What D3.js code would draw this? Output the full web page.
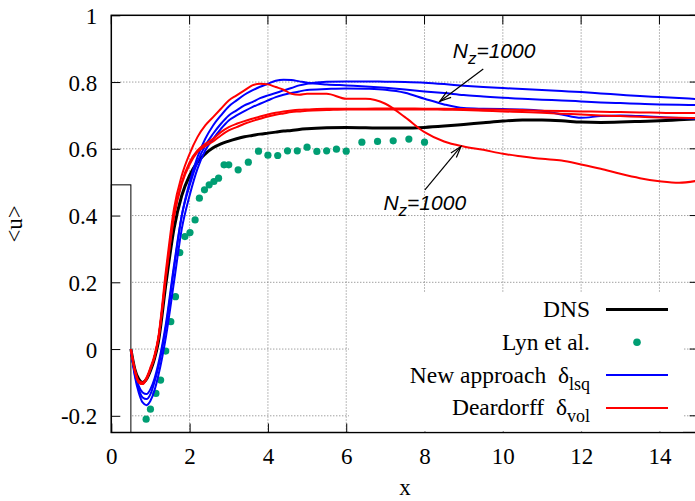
<!DOCTYPE html>
<html>
<head>
<meta charset="utf-8">
<script src="https://cdn.jsdelivr.net/npm/d3@7"></script>
<style>
  body { margin: 0; background: #fff; }
  svg { display: block; }
</style>
</head>
<body>
<div id="chart"></div>
<script>

// ---- data ----
var xGrid = [0.5,0.6,0.7,0.8,0.9,1.0,1.1,1.2,1.4,1.6,1.8,2.0,2.2,2.4,2.6,2.8,3.0,3.2,3.4,3.6,3.8,4.0,4.2,4.4,4.6,4.8,5.0,5.5,6.0,6.5,7.0,7.5,8.0,8.5,9.0,9.5,10.0,10.5,11.0,11.5,12.0,12.5,13.0,13.5,14.0,14.5,15.0];

var dnsU = [0,-0.06,-0.09,-0.10,-0.09,-0.065,-0.03,0.02,0.20,0.36,0.46,0.52,0.56,0.585,0.603,0.615,0.623,0.630,0.636,0.640,0.644,0.647,0.650,0.653,0.655,0.658,0.660,0.663,0.664,0.663,0.662,0.662,0.664,0.668,0.673,0.678,0.683,0.686,0.686,0.684,0.680,0.679,0.680,0.682,0.684,0.687,0.690];

var newA = [0,-0.07,-0.11,-0.13,-0.135,-0.12,-0.09,-0.045,0.08,0.25,0.40,0.49,0.56,0.61,0.645,0.675,0.70,0.715,0.73,0.74,0.752,0.76,0.767,0.775,0.782,0.79,0.795,0.801,0.802,0.802,0.801,0.80,0.798,0.794,0.789,0.785,0.782,0.779,0.776,0.773,0.77,0.766,0.762,0.758,0.755,0.752,0.749];
var newB = [0,-0.075,-0.12,-0.145,-0.15,-0.135,-0.10,-0.055,0.07,0.24,0.40,0.50,0.575,0.63,0.67,0.70,0.727,0.745,0.762,0.775,0.786,0.795,0.804,0.807,0.806,0.802,0.798,0.793,0.79,0.787,0.783,0.778,0.772,0.767,0.761,0.757,0.753,0.75,0.747,0.745,0.742,0.739,0.737,0.735,0.733,0.732,0.731];
var newC = [0,-0.08,-0.13,-0.16,-0.168,-0.155,-0.125,-0.08,0.04,0.20,0.36,0.46,0.54,0.595,0.63,0.66,0.685,0.70,0.713,0.725,0.735,0.745,0.755,0.762,0.767,0.772,0.776,0.779,0.781,0.78,0.777,0.768,0.75,0.733,0.722,0.72,0.719,0.718,0.714,0.703,0.693,0.698,0.70,0.698,0.695,0.692,0.69];

var deaA = [0,-0.06,-0.095,-0.10,-0.085,-0.055,-0.02,0.035,0.24,0.42,0.52,0.585,0.635,0.67,0.695,0.72,0.745,0.76,0.775,0.79,0.795,0.793,0.785,0.777,0.765,0.762,0.765,0.765,0.75,0.75,0.735,0.695,0.65,0.622,0.607,0.597,0.585,0.577,0.57,0.565,0.553,0.54,0.525,0.512,0.503,0.498,0.505];
var deaB = [0,-0.065,-0.10,-0.105,-0.09,-0.06,-0.025,0.03,0.225,0.40,0.50,0.56,0.595,0.615,0.63,0.65,0.665,0.675,0.683,0.69,0.697,0.703,0.708,0.712,0.715,0.717,0.718,0.72,0.72,0.72,0.721,0.721,0.72,0.72,0.719,0.718,0.717,0.716,0.714,0.713,0.712,0.711,0.71,0.709,0.708,0.707,0.707];
var deaC = [0,-0.065,-0.10,-0.105,-0.09,-0.06,-0.025,0.028,0.22,0.395,0.495,0.553,0.59,0.608,0.622,0.64,0.655,0.665,0.675,0.683,0.69,0.697,0.702,0.706,0.71,0.712,0.714,0.716,0.718,0.718,0.718,0.718,0.718,0.717,0.716,0.714,0.712,0.71,0.708,0.705,0.703,0.70,0.698,0.696,0.694,0.693,0.692];

var lynX = [0.89,1.0,1.14,1.26,1.39,1.52,1.64,1.75,1.88,2.01,2.14,2.25,2.38,2.5,2.62,2.74,2.88,3.0,3.24,3.5,3.76,4.0,4.25,4.5,4.75,5.0,5.25,5.5,5.75,6.0,6.4,6.8,7.2,7.6,8.0];
var lynU = [-0.21,-0.18,-0.133,-0.093,-0.006,0.082,0.157,0.289,0.337,0.349,0.387,0.452,0.477,0.492,0.502,0.512,0.552,0.552,0.537,0.56,0.593,0.581,0.58,0.594,0.594,0.605,0.592,0.594,0.599,0.593,0.62,0.622,0.624,0.629,0.62];

var xTicks = [0,2,4,6,8,10,12,14];
var xTickLabels = ["0","2","4","6","8","10","12","14"];
var yTicks = [-0.2,0,0.2,0.4,0.6,0.8,1];
var yTickLabels = ["-0.2","0","0.2","0.4","0.6","0.8","1"];

var legendNames = ["DNS", "Lyn et al.", "New approach", "Deardorff"];
var legendSubs = [null, null, "lsq", "vol"];

// ---- layout ----
var width = 695, height = 501;
var pL = 111.3, pR = 698.6, pT = 15.3, pB = 432.5;
var serif = "'Liberation Serif', Tinos, 'DejaVu Serif', 'Noto Serif', 'Nimbus Roman', FreeSerif, 'Times New Roman', serif";
var sans = "'Liberation Sans', Arial, Helvetica, sans-serif";

var x = d3.scaleLinear().domain([0, 15]).range([pL, pR]);
var y = d3.scaleLinear().domain([-0.25, 1]).range([pB, pT]);

var svg = d3.select("#chart").append("svg")
  .attr("width", width)
  .attr("height", height);

svg.append("rect").attr("width", width).attr("height", height).attr("fill", "#fff");

svg.append("clipPath").attr("id", "clip")
  .append("rect")
  .attr("x", pL).attr("y", pT)
  .attr("width", pR - pL).attr("height", pB - pT);

// grid
var grid = svg.append("g").attr("stroke", "#777").attr("stroke-width", 1).attr("stroke-dasharray", "1,2");
grid.selectAll(".gx").data(xTicks.filter(function(d) { return d > 0; }))
  .enter().append("line")
  .attr("x1", function(d) { return x(d); }).attr("x2", function(d) { return x(d); })
  .attr("y1", pB).attr("y2", pT);
grid.selectAll(".gy").data(yTicks.filter(function(d) { return d < 1; }))
  .enter().append("line")
  .attr("x1", pL).attr("x2", pR)
  .attr("y1", function(d) { return y(d); }).attr("y2", function(d) { return y(d); });

// cylinder (half body)
svg.append("rect")
  .attr("x", x(0)).attr("y", y(0.492))
  .attr("width", x(0.5) - x(0)).attr("height", pB - y(0.492))
  .attr("fill", "#fff").attr("stroke", "#000").attr("stroke-width", 1);

// axes
var xAxis = d3.axisBottom(x).tickValues(xTicks).tickSize(-9).tickPadding(14)
  .tickFormat(function(d, i) { return xTickLabels[i]; });
var yAxis = d3.axisLeft(y).tickValues(yTicks).tickSize(-9).tickPadding(14)
  .tickFormat(function(d, i) { return yTickLabels[i]; });

var gx = svg.append("g").attr("transform", "translate(0," + pB + ")").call(xAxis);
var gy = svg.append("g").attr("transform", "translate(" + pL + ",0)").call(yAxis);
[gx, gy].forEach(function(g) {
  g.attr("font-family", null).attr("font-size", null);
  g.select(".domain").remove();
  g.selectAll(".tick line").attr("stroke", "#000").attr("stroke-width", 1);
  g.selectAll("text").style("font-family", serif).style("font-size", "23px").attr("fill", "#000");
});
gx.selectAll("text").attr("dy", null).attr("y", 31);
gy.selectAll("text").attr("dy", "0.35em");

// mirrored ticks on top and right
svg.append("g").selectAll("line").data(xTicks).enter().append("line")
  .attr("x1", function(d) { return x(d); }).attr("x2", function(d) { return x(d); })
  .attr("y1", pT).attr("y2", pT + 9).attr("stroke", "#000");
svg.append("g").selectAll("line").data(yTicks).enter().append("line")
  .attr("x1", pR).attr("x2", pR - 9)
  .attr("y1", function(d) { return y(d); }).attr("y2", function(d) { return y(d); })
  .attr("stroke", "#000");

// border
svg.append("rect")
  .attr("x", pL).attr("y", pT)
  .attr("width", pR - pL).attr("height", pB - pT)
  .attr("fill", "none").attr("stroke", "#000").attr("stroke-width", 1.5);

// curves
var line = d3.line()
  .x(function(d, i) { return x(xGrid[i]); })
  .y(function(d) { return y(d); })
  .curve(d3.curveMonotoneX);

var plot = svg.append("g").attr("clip-path", "url(#clip)");

plot.append("path").datum(dnsU).attr("d", line)
  .attr("fill", "none").attr("stroke", "#000").attr("stroke-width", 3);

plot.selectAll(".lyn").data(lynX).enter().append("circle")
  .attr("cx", function(d) { return x(d); })
  .attr("cy", function(d, i) { return y(lynU[i]); })
  .attr("r", 3.6).attr("fill", "#009e73");

[newA, newB, newC].forEach(function(s) {
  plot.append("path").datum(s).attr("d", line)
    .attr("fill", "none").attr("stroke", "#0000ff").attr("stroke-width", 2);
});
[deaA, deaB, deaC].forEach(function(s) {
  plot.append("path").datum(s).attr("d", line)
    .attr("fill", "none").attr("stroke", "#ff0000").attr("stroke-width", 2);
});

// legend (opaque key box)
svg.append("rect")
  .attr("x", 349).attr("y", 292).attr("width", 334).attr("height", pB - 292 - 1)
  .attr("fill", "#fff");

var legendColors = ["#000", "#009e73", "#0000ff", "#ff0000"];
var rowY = function(i) { return 309.5 + 32.8 * i; };

legendNames.forEach(function(name, i) {
  var t = svg.append("text")
    .style("font-family", serif).style("font-size", "23.5px")
    .attr("x", 590).attr("y", rowY(i) + 7.5)
    .attr("text-anchor", "end").attr("fill", "#000");
  if (legendSubs[i]) {
    t.append("tspan").text(name + "\u00a0\u00a0\u03b4");
    t.append("tspan").style("font-size", "18px").attr("dy", 7).text(legendSubs[i]);
  } else {
    t.text(name);
  }
  if (i === 1) {
    svg.append("circle").attr("cx", 637).attr("cy", rowY(i)).attr("r", 3.8).attr("fill", legendColors[i]);
  } else {
    svg.append("line").attr("x1", 606).attr("x2", 668)
      .attr("y1", rowY(i)).attr("y2", rowY(i))
      .attr("stroke", legendColors[i]).attr("stroke-width", i === 0 ? 3 : 2);
  }
});

// annotations
function annotate(tx, ty, fx, fy, ex, ey) {
  var t = svg.append("text")
    .style("font-family", sans).style("font-style", "italic").style("font-size", "21px")
    .attr("x", x(tx)).attr("y", y(ty)).attr("fill", "#000");
  t.append("tspan").text("N");
  t.append("tspan").style("font-size", "17px").attr("dy", 6).text("z");
  t.append("tspan").attr("dy", -6).text("=1000");

  var x1 = x(fx), y1 = y(fy), x2 = x(ex), y2 = y(ey);
  svg.append("line").attr("x1", x1).attr("y1", y1).attr("x2", x2).attr("y2", y2)
    .attr("stroke", "#000").attr("stroke-width", 1.2);
  var a = Math.atan2(y2 - y1, x2 - x1), L = 12, s = 0.3;
  var p1 = [x2 - L * Math.cos(a - s), y2 - L * Math.sin(a - s)];
  var p2 = [x2 - L * Math.cos(a + s), y2 - L * Math.sin(a + s)];
  svg.append("path")
    .attr("d", "M" + p1 + "L" + [x2, y2] + "L" + p2)
    .attr("fill", "none").attr("stroke", "#000").attr("stroke-width", 1.2);
}
annotate(8.72, 0.872, 9.5, 0.839, 8.39, 0.742);
annotate(6.95, 0.418, 8.01, 0.477, 8.93, 0.607);

// axis titles
svg.append("text")
  .style("font-family", serif).style("font-size", "23px")
  .attr("x", (pL + pR) / 2).attr("y", 495)
  .attr("text-anchor", "middle").text("x");
svg.append("text")
  .style("font-family", serif).style("font-size", "23px")
  .attr("transform", "translate(22," + ((pT + pB) / 2) + ") rotate(-90)")
  .attr("text-anchor", "middle").text("<u>");

</script>
</body>
</html>
